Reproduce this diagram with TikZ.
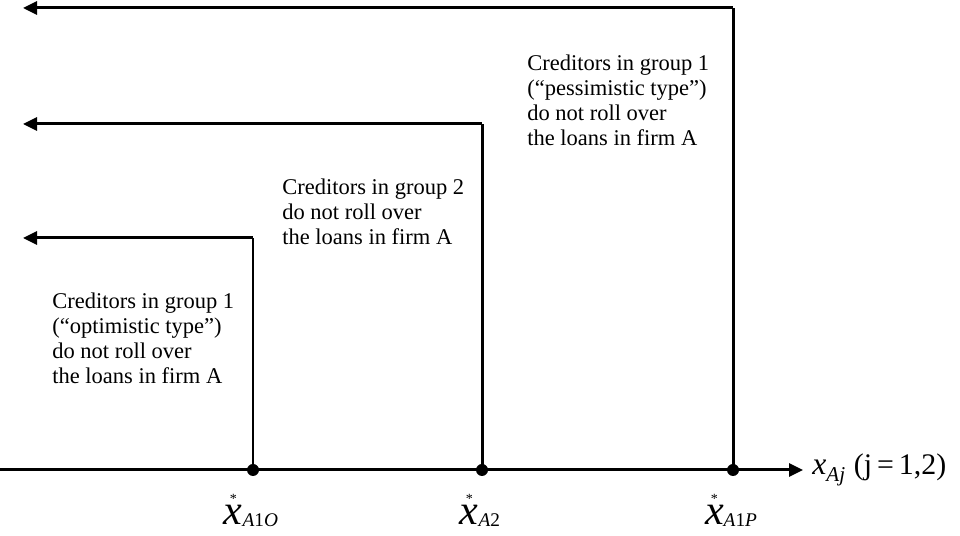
\documentclass[tikz,border=0pt]{standalone}
\usepackage{fontspec}
\usepackage{amsmath}
\setmainfont{Liberation Serif}
\usetikzlibrary{arrows.meta,positioning}

% critical value labels
\newcommand{\xcrit}[1]{$\overset{\raisebox{-2pt}{\fontsize{8}{8}\selectfont *}}{\text{\fontsize{24}{24}\selectfont\itshape x}}$\raisebox{-1pt}{\fontsize{11}{11}\selectfont #1}}

\tikzset{
  thickline/.style={line width=1.7pt},
  leftarrow/.style={thickline,-{Triangle[length=0.28cm,width=0.26cm]}},
  dot/.style={circle,fill=black,inner sep=0pt,minimum size=0.24cm},
  note/.style={align=left,anchor=north west,inner sep=0pt,font=\fontsize{12.8}{14.2}\selectfont},
  critlabel/.style={anchor=base,inner sep=0pt},
}

\begin{document}
\begin{tikzpicture}
  \useasboundingbox (0,0) rectangle (19.2,10.72);

  % axis
  \coordinate (origin) at (0,1.32);
  \coordinate (axisend) at (16.06,1.32);
  \draw[leftarrow] (origin) -- (axisend);
  \node[anchor=west,inner sep=0pt] (xlab) at (16.24,1.32)
    {{\fontsize{18}{18}\selectfont\itshape x}\raisebox{-4pt}{\fontsize{12}{12}\selectfont\itshape Aj}\ \ {\fontsize{17}{17}\selectfont (j\,=\,1,2)}};

  % thresholds
  \node[dot] (d1) at (5.06,1.32) {};
  \node[dot] (d2) at (9.64,1.32) {};
  \node[dot] (d3) at (14.66,1.32) {};
  \coordinate (t1) at (5.06,5.96);
  \coordinate (t2) at (9.64,8.24);
  \coordinate (t3) at (14.66,10.56);
  \coordinate (e1) at (0.46,5.96);
  \coordinate (e2) at (0.46,8.24);
  \coordinate (e3) at (0.46,10.56);
  \draw[thickline] (d1.center) -- (t1);
  \draw[thickline] (d2.center) -- (t2);
  \draw[thickline] (d3.center) -- (t3);
  \draw[leftarrow] (t1) -- (e1);
  \draw[leftarrow] (t2) -- (e2);
  \draw[leftarrow] (t3) -- (e3);

  \node[critlabel] (l1) at (5.02,0.22) {\xcrit{\itshape A\upshape 1\itshape O}};
  \node[critlabel] (l2) at (9.6,0.22) {\xcrit{\itshape A\upshape 2}};
  \node[critlabel] (l3) at (14.62,0.22) {\xcrit{\itshape A\upshape 1\itshape P}};

  % text blocks
  \node[note] (n1) at (1.04,4.86) {Creditors in group 1\\(``optimistic type'')\\do not roll over\\the loans in firm A};
  \node[note] (n2) at (5.64,7.14) {Creditors in group 2\\do not roll over\\the loans in firm A};
  \node[note] (n3) at (10.54,9.62) {Creditors in group 1\\(``pessimistic type'')\\do not roll over\\the loans in firm A};
\end{tikzpicture}
\end{document}
